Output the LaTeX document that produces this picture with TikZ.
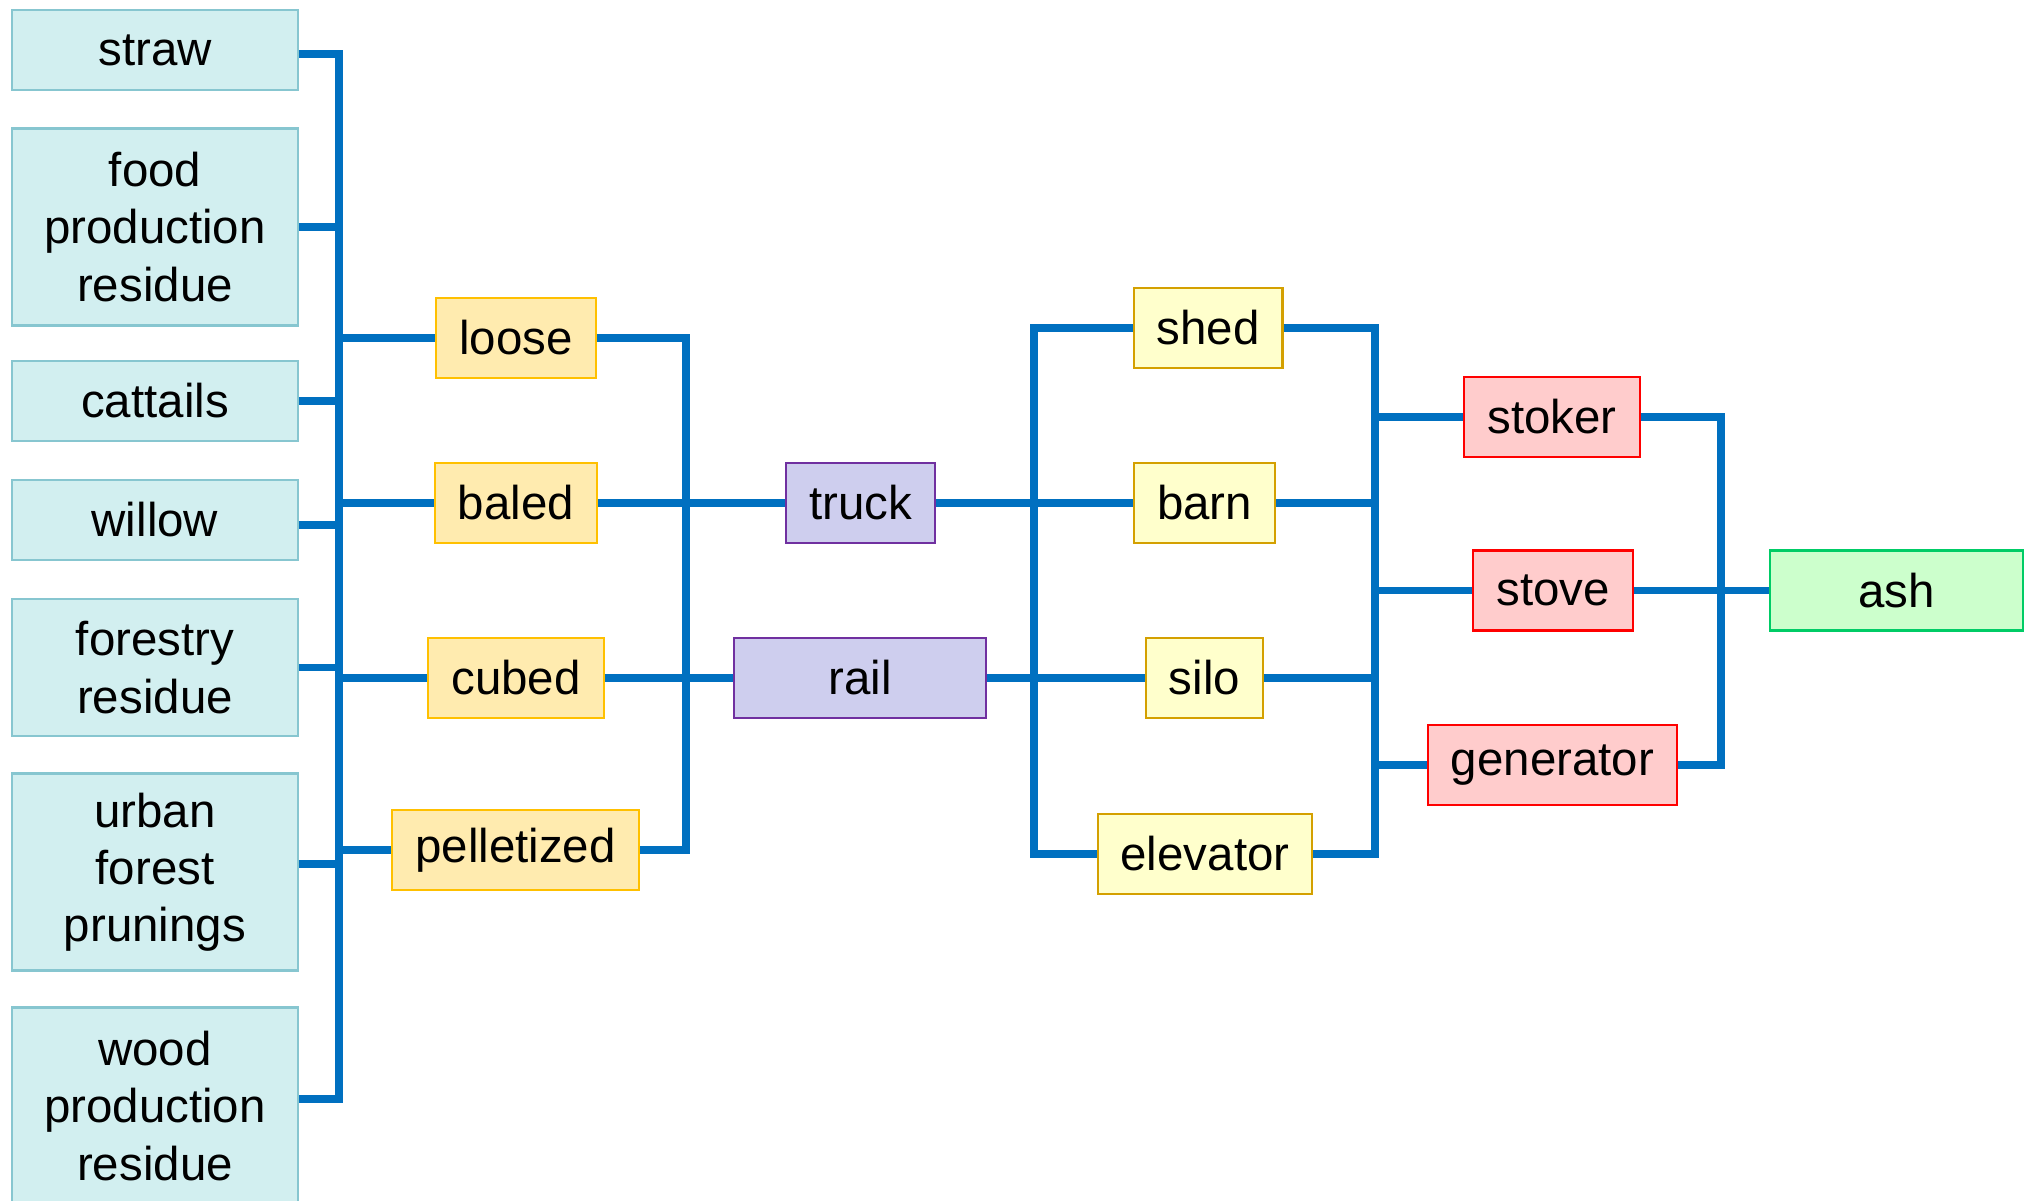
\documentclass[tikz,border=0pt]{standalone}
\usepackage{fontspec}
\setmainfont{Liberation Sans}
\usepackage{tikz}
\usetikzlibrary{positioning}

\definecolor{wireblue}{RGB}{0,112,192}
\definecolor{srcfill}{RGB}{210,239,240}
\definecolor{srcline}{RGB}{135,198,208}
\definecolor{formfill}{RGB}{255,235,175}
\definecolor{formline}{RGB}{255,192,0}
\definecolor{haulfill}{RGB}{206,206,238}
\definecolor{haulline}{RGB}{112,48,160}
\definecolor{storefill}{RGB}{255,255,204}
\definecolor{storeline}{RGB}{212,160,0}
\definecolor{burnfill}{RGB}{255,204,204}
\definecolor{burnline}{RGB}{255,0,0}
\definecolor{ashfill}{RGB}{204,255,204}
\definecolor{ashline}{RGB}{0,204,102}

\begin{document}
\begin{tikzpicture}[
        font = \fontsize{13.5pt}{16.3pt}\selectfont,
        box/.style = {shape = rectangle, line width = 0.6pt, align = center, inner xsep = 0.23cm, inner ysep = 0pt, minimum height = 0.8cm},
        source/.style = {box, fill = srcfill, draw = srcline, minimum width = 2.855cm},
        form/.style = {box, fill = formfill, draw = formline},
        haul/.style = {box, fill = haulfill, draw = haulline},
        store/.style = {box, fill = storefill, draw = storeline},
        burn/.style = {box, fill = burnfill, draw = burnline},
        waste/.style = {box, fill = ashfill, draw = ashline},
        wire/.style = {draw = wireblue, line width = 2.1pt}
    ]
                    \useasboundingbox (0, 0) rectangle (20.32, -12);

                    % feedstock
                    \node [source] (straw) at (1.55, -0.5) {straw};
                    \node [source, minimum height = 1.97cm] (food) at (1.55, -2.27) {food\\production\\residue};
                    \node [source] (cattails) at (1.55, -4.01) {cattails};
                    \node [source] (willow) at (1.55, -5.2) {willow};
                    \node [source, minimum height = 1.37cm] (forestry) at (1.55, -6.675) {forestry\\residue};
                    \node [source, minimum height = 1.97cm] (urban) at (1.55, -8.72) {urban\\forest\\prunings};
                    \node [source, minimum height = 1.97cm] (wood) at (1.55, -11.06) {wood\\production\\residue};

                    % form
                    \node [form] (loose) at (5.16, -3.38) {loose};
                    \node [form] (baled) at (5.16, -5.03) {baled};
                    \node [form] (cubed) at (5.16, -6.78) {cubed};
                    \node [form] (pellet) at (5.155, -8.5) {pelletized};

                    % transport
                    \node [haul] (truck) at (8.605, -5.03) {truck};
                    \node [haul, minimum width = 2.526cm] (rail) at (8.6, -6.78) {rail};

                    % storage
                    \node [store] (shed) at (12.08, -3.28) {shed};
                    \node [store] (barn) at (12.045, -5.03) {barn};
                    \node [store] (silo) at (12.045, -6.78) {silo};
                    \node [store] (elevator) at (12.05, -8.54) {elevator};

                    % conversion
                    \node [burn] (stoker) at (15.52, -4.17) {stoker};
                    \node [burn] (stove) at (15.53, -5.905) {stove};
                    \node [burn] (generator) at (15.525, -7.65) {generator};
                    \node [waste, minimum width = 2.53cm] (ash) at (18.965, -5.905) {ash};

                    \coordinate (busA) at (3.39, 0);
                    \coordinate (busB) at (6.86, 0);
                    \coordinate (busC) at (10.34, 0);
                    \coordinate (busD) at (13.75, 0);
                    \coordinate (busE) at (17.21, 0);

                    \draw [wire] ([yshift = -0.04cm] straw.east) -- ([yshift = -0.04cm] straw.east -| busA) -- ([yshift = 0.07cm] wood.east -| busA) -- ([yshift = 0.07cm] wood.east);
                    \draw [wire] (food.east) -- (food.east -| busA);
                    \draw [wire] (cattails.east) -- (cattails.east -| busA);
                    \draw [wire] ([yshift = -0.05cm] willow.east) -- ([yshift = -0.05cm] willow.east -| busA);
                    \draw [wire] (forestry.east) -- (forestry.east -| busA);
                    \draw [wire] ([yshift = 0.08cm] urban.east) -- ([yshift = 0.08cm] urban.east -| busA);
                    \draw [wire] (loose.west -| busA) -- (loose.west);
                    \draw [wire] (baled.west -| busA) -- (baled.west);
                    \draw [wire] (cubed.west -| busA) -- (cubed.west);
                    \draw [wire] (pellet.west -| busA) -- (pellet.west);

                    \draw [wire] (loose.east) -- (loose.east -| busB) -- (pellet.east -| busB) -- (pellet.east);
                    \draw [wire] (baled) -- (truck);
                    \draw [wire] (cubed) -- (rail);

                    \draw [wire] (shed.west) -- (shed.west -| busC) -- (elevator.west -| busC) -- (elevator.west);
                    \draw [wire] (truck) -- (barn);
                    \draw [wire] (rail) -- (silo);

                    \draw [wire] (shed.east) -- (shed.east -| busD) -- (elevator.east -| busD) -- (elevator.east);
                    \draw [wire] (barn.east) -- (barn.east -| busD);
                    \draw [wire] (silo.east) -- (silo.east -| busD);
                    \draw [wire] (stoker.west -| busD) -- (stoker.west);
                    \draw [wire] (stove.west -| busD) -- (stove.west);
                    \draw [wire] (generator.west -| busD) -- (generator.west);

                    \draw [wire] (stoker.east) -- (stoker.east -| busE) -- (generator.east -| busE) -- (generator.east);
                    \draw [wire] (stove) -- (ash);
\end{tikzpicture}
\end{document}
